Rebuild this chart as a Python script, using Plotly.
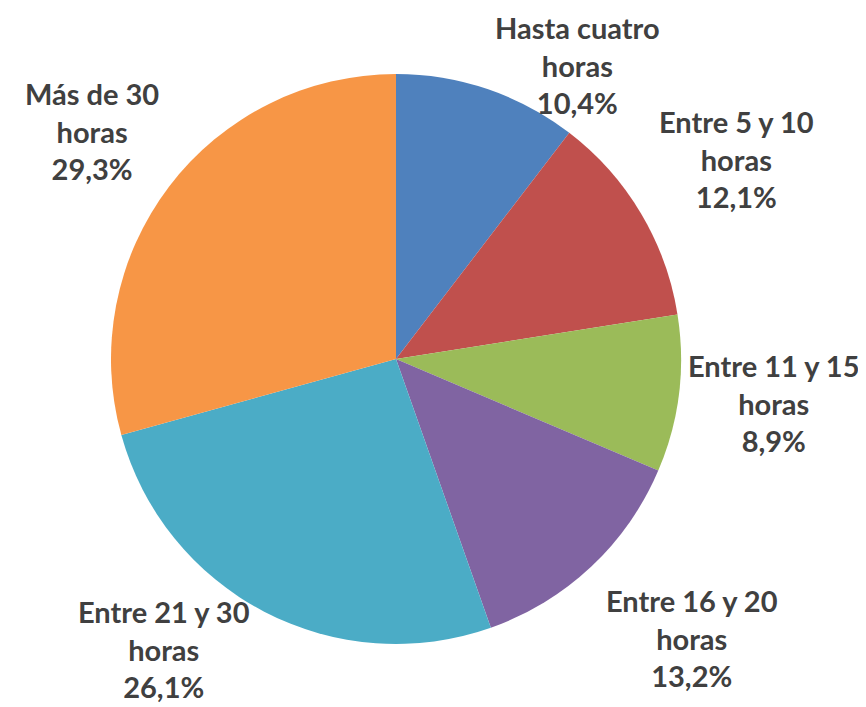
import math
import plotly.graph_objects as go

categories = ["Hasta cuatro<br>horas", "Entre 5 y 10<br>horas", "Entre 11 y 15<br>horas",
              "Entre 16 y 20<br>horas", "Entre 21 y 30<br>horas", "Más de 30<br>horas"]
values = [10.4, 12.1, 8.9, 13.2, 26.1, 29.3]
colors = ["#4F81BD", "#C0504D", "#9BBB59", "#8064A2", "#4BACC6", "#F79646"]

W, H = 866, 707
cx, cy, r = 388, 351, 285   # domain placement (pixels)
pc_x, pc_y = 396, 358       # rendered pie centre
FS = 29
GAP = 10                    # radial label gap
LEFT_SHIFT = 18             # extra horizontal gap for left-hand labels
TOP_EDGE, BOTTOM_EDGE, LEFT_EDGE, RIGHT_EDGE = 0, 10, 4, 15

fig = go.Figure(go.Pie(
    labels=categories,
    values=values,
    sort=False,
    direction="clockwise",
    rotation=0,
    marker=dict(colors=colors, line=dict(color="white", width=0)),
    textinfo="none",
    hoverinfo="label+percent",
    showlegend=False,
    automargin=False,
    domain=dict(x=[(cx - r) / W, (cx + r) / W], y=[1 - (cy + r) / H, 1 - (cy - r) / H]),
))

# outside-end data labels placed from each slice's mid angle
total = sum(values)
cum = 0.0
block_h = 3 * FS * 1.3
annotations = []
for lab, v in zip(categories, values):
    mid = (cum + v / 2) / total * 2 * math.pi
    cum += v
    ux, uy = math.sin(mid), -math.cos(mid)
    px = pc_x + (r + GAP) * ux
    py = pc_y + (r + GAP) * uy
    pct = f"{v / total * 100:.1f}%".replace(".", ",")
    widest = max(len(s) for s in lab.split("<br>") + [pct])
    est_w = widest * FS * 0.455
    if ux > 0:
        xc = px + est_w / 2
    else:
        xc = px - LEFT_SHIFT - est_w / 2
    xc = min(max(xc, LEFT_EDGE + est_w / 2), W - RIGHT_EDGE - est_w / 2)
    if abs(ux) > 0.95:
        top = py - block_h / 2
    elif uy < 0:
        top = py - block_h
    else:
        top = py
    # keep the label inside the chart area
    top = max(top, TOP_EDGE)
    top = min(top, H - BOTTOM_EDGE - block_h)
    annotations.append(dict(
        x=xc / W, y=1 - top / H, xref="paper", yref="paper",
        xanchor="center", yanchor="top", align="center", showarrow=False,
        text=f"{lab}<br>{pct}",
        font=dict(family="Lato", size=FS, color="#404040", weight=700),
    ))

fig.update_layout(
    width=W, height=H,
    margin=dict(l=0, r=0, t=0, b=0),
    paper_bgcolor="white",
    separators=",.",
    annotations=annotations,
)
fig.write_html("out.html")
